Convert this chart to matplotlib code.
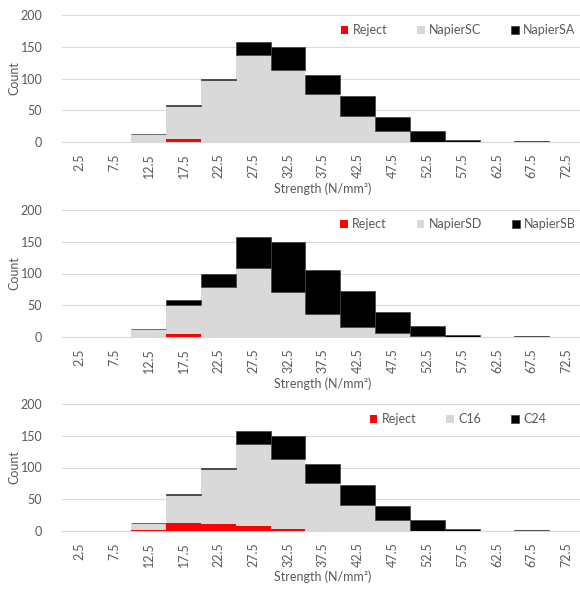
import matplotlib
matplotlib.use("Agg")
import matplotlib.pyplot as plt
import numpy as np

plt.rcParams['font.family'] = ['Lato', 'DejaVu Sans']

# Strength bins (N/mm2)
bins = ["2.5", "7.5", "12.5", "17.5", "22.5", "27.5", "32.5", "37.5",
        "42.5", "47.5", "52.5", "57.5", "62.5", "67.5", "72.5"]

# Panel 1: Reject / NapierSC / NapierSA
reject_1 = [0, 0, 0, 4, 0, 0, 0, 0, 0, 0, 0, 0, 0, 0, 0]
napier_sc = [0, 0, 13, 52, 97, 137, 113, 75, 41, 17, 0, 0, 0, 0, 0]
napier_sa = [0, 0, 0, 2, 2, 20, 37, 31, 32, 22, 17, 3, 0, 2, 0]

# Panel 2: Reject / NapierSD / NapierSB
reject_2 = [0, 0, 0, 4, 0, 0, 0, 0, 0, 0, 0, 0, 0, 0, 0]
napier_sd = [0, 0, 12, 46, 78, 108, 71, 36, 16, 6, 2, 0, 0, 0, 0]
napier_sb = [0, 0, 1, 8, 21, 49, 79, 70, 57, 33, 15, 3, 0, 2, 0]

# Panel 3: Reject / C16 / C24
reject_3 = [0, 0, 2, 13, 11, 8, 3, 0, 0, 0, 0, 0, 0, 0, 0]
c16 = [0, 0, 11, 43, 86, 129, 110, 75, 41, 17, 0, 0, 0, 0, 0]
c24 = [0, 0, 0, 2, 2, 20, 37, 31, 32, 22, 17, 3, 0, 2, 0]

panels = [
    (reject_1, napier_sc, napier_sa, ["Reject", "NapierSC", "NapierSA"]),
    (reject_2, napier_sd, napier_sb, ["Reject", "NapierSD", "NapierSB"]),
    (reject_3, c16, c24, ["Reject", "C16", "C24"]),
]

W, H = 580, 591
fig = plt.figure(figsize=(W / 100, H / 100), dpi=100)

text_col = "#595959"
grid_col = "#D9D9D9"
colors = ["#FF0000", "#D9D9D9", "#000000"]

left_px, right_px = 61.7, 584
zero_px = [142, 337, 531]
plot_h = 127
legend_y = [30, 224, 419]
xlabel_y = [189, 384, 577]
fs = 9

x = np.arange(len(bins))
for i, (rej, mid, top, names) in enumerate(panels):
    ax = fig.add_axes([left_px / W, 1 - zero_px[i] / H,
                       (right_px - left_px) / W, plot_h / H])
    rej = np.array(rej)
    mid = np.array(mid)
    top = np.array(top)
    h1 = ax.bar(x, rej, width=1.0, color=colors[0], linewidth=0, zorder=3)
    h2 = ax.bar(x, mid, width=1.0, bottom=rej, color=colors[1], linewidth=0, zorder=3)
    h3 = ax.bar(x, top, width=1.0, bottom=rej + mid, color=colors[2],
                edgecolor="#404040", linewidth=0.5, zorder=3)
    ax.set_xlim(-0.5, len(bins) - 0.5)
    ax.set_ylim(0, 200)
    ax.set_yticks([0, 50, 100, 150, 200])
    ax.yaxis.grid(True, color=grid_col, linewidth=0.8, zorder=0)
    ax.set_axisbelow(True)
    for s in ["top", "right", "left"]:
        ax.spines[s].set_visible(False)
    ax.spines["bottom"].set_color(grid_col)
    ax.set_xticks(x)
    ax.set_xticklabels(bins, rotation=90)
    ax.tick_params(axis="both", length=0, labelsize=fs, colors=text_col)
    ax.tick_params(axis="x", pad=8)
    ax.tick_params(axis="y", pad=14)
    ax.set_ylabel("Count", fontsize=fs, color=text_col)
    ax.yaxis.set_label_coords((20 - left_px) / (right_px - left_px), 0.5)
    fig.text(323 / W, 1 - xlabel_y[i] / H, "Strength (N/mm²)", fontsize=fs,
             color=text_col, ha="center", va="center")
    leg = ax.legend([h1, h2, h3], names, loc="center", ncol=3,
                    bbox_to_anchor=(458 / W, 1 - legend_y[i] / H),
                    bbox_transform=fig.transFigure, frameon=False,
                    fontsize=fs, handlelength=0.6, handleheight=0.6,
                    handletextpad=0.35, columnspacing=2.4)
    for t in leg.get_texts():
        t.set_color(text_col)

fig.savefig("out.png", dpi=100)
